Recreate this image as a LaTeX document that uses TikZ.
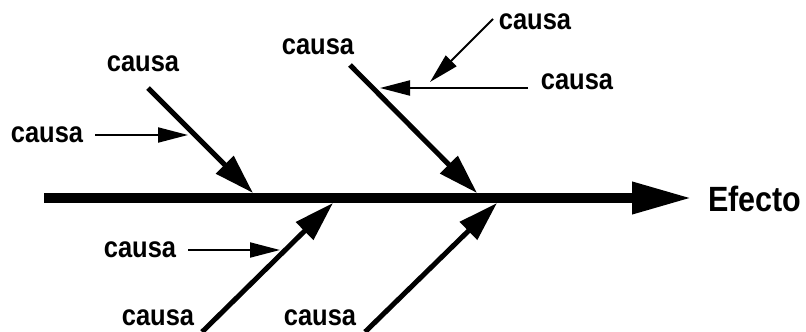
\documentclass[tikz,border=0pt]{standalone}
\usepackage{fontspec}
\setmainfont{Liberation Sans}
\usetikzlibrary{arrows.meta}
\newcommand{\tall}[1]{\scalebox{1}[1.15]{#1}}

\begin{document}
\begin{tikzpicture}[x=1pt,y=-1pt,
    lbl/.style={font=\fontsize{25.5}{30}\selectfont\bfseries},
    eff/.style={font=\fontsize{30.5}{36}\selectfont\bfseries},
    spine/.style={line width=10pt,-{Triangle[length=60pt,width=30pt]}},
    bone/.style={line width=5pt,-{Triangle[length=40pt,width=24pt]}},
    sub/.style={line width=2pt,-{Triangle[length=30pt,width=15pt]}}]
      \useasboundingbox (0,0) rectangle (806,332);
      % spine
      \coordinate (tail) at (44,198);
      \coordinate (head) at (692,198);
      \node[eff] (efecto) at (755,199) {\tall{Efecto}};
      \path (tail) edge [spine] (head);
      % bones
      \coordinate (up1) at (148,88);
      \coordinate (up2) at (350,65);
      \coordinate (lo1) at (202,332);
      \coordinate (lo2) at (365,332);
      \coordinate (j1) at (253,193);
      \coordinate (j2) at (477,193);
      \coordinate (j3) at (333,203);
      \coordinate (j4) at (497,203);
      \path (up1) edge [bone] (j1);
      \path (up2) edge [bone] (j2);
      \path (lo1) edge [bone] (j3);
      \path (lo2) edge [bone] (j4);
      \node[lbl] (cUp1) at (143,64) {\tall{causa}};
      \node[lbl] (cUp2) at (318,47) {\tall{causa}};
      \node[lbl,inner sep=1pt] (cLo1) at (158,318) {\tall{causa}};
      \node[lbl,inner sep=1pt] (cLo2) at (320,318) {\tall{causa}};
      % sub causes
      \node[lbl] (cL) at (47,135) {\tall{causa}};
      \node[lbl] (cB) at (140,250) {\tall{causa}};
      \node[lbl] (cR) at (577,82) {\tall{causa}};
      \node[lbl] (cT) at (535,22) {\tall{causa}};
      \coordinate (sL) at (95,135);
      \coordinate (sB) at (188,250);
      \coordinate (sR) at (528,88);
      \coordinate (sT) at (493,19);
      \coordinate (eL) at (188,135);
      \coordinate (eB) at (280,250);
      \coordinate (eR) at (380,88);
      \coordinate (eT) at (430,82);
      \path (sL) edge [sub] (eL);
      \path (sB) edge [sub] (eB);
      \path (sR) edge [sub] (eR);
      \path (sT) edge [sub] (eT);
    \end{tikzpicture}
\end{document}
